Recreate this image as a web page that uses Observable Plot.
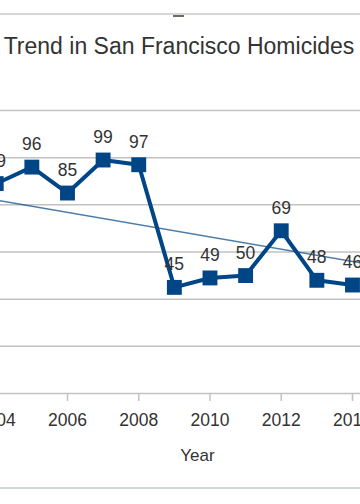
<!DOCTYPE html>
<html>
<head>
<meta charset="utf-8">
<script src="https://cdn.jsdelivr.net/npm/d3@7"></script>
<script src="https://cdn.jsdelivr.net/npm/@observablehq/plot@0.6"></script>
<style>
  html, body { margin: 0; padding: 0; background: #fff; }
  #wrap { position: relative; width: 360px; height: 504px; overflow: hidden; font-family: "Liberation Sans", Arial, sans-serif; }
  #topline { position: absolute; left: 0; top: 13px; width: 360px; height: 2px; background: #d6d6d6; }
  #topmark { position: absolute; left: 173px; top: 15px; width: 11px; height: 2px; background: #6b6b5e; }
  #botline { position: absolute; left: 0; top: 487px; width: 360px; height: 2px; background: #d2d8d8; }
  #title { position: absolute; left: 0; top: 30px; width: 358px; text-align: center; font-size: 23px; color: #333; line-height: 32px; white-space: nowrap; }
  #chart { position: absolute; left: 0; top: 0; }
  #chart svg { overflow: hidden; }
</style>
</head>
<body>
<div id="wrap">
  <div id="chart"></div>
  <div id="topline"></div>
  <div id="topmark"></div>
  <div id="botline"></div>
  <div id="title">Trend in San Francisco Homicides</div>
</div>
<script>
const years = [2004, 2005, 2006, 2007, 2008, 2009, 2010, 2011, 2012, 2013, 2014];
const homicides = [89, 96, 85, 99, 97, 45, 49, 50, 69, 48, 46];
const trendYears = [2004, 2014.5];
const trendValues = [82, 54.7];
const gridValues = [0, 20, 40, 60, 80, 100, 120];
const tickYears = [2004, 2006, 2008, 2010, 2012, 2014];
const xLabel = "Year";

const data = years.map((y, i) => ({year: y, value: homicides[i]}));
const trend = trendYears.map((y, i) => ({year: y, value: trendValues[i]}));

const blue = "#004586";
const grid = "#c2c2c2";

const chart = Plot.plot({
  width: 360,
  height: 504,
  marginTop: 110,
  marginBottom: 111,
  marginLeft: 0,
  marginRight: 0,
  style: {fontFamily: "Liberation Sans, Arial, sans-serif", background: "transparent"},
  x: {domain: [2004.12, 2014.225], axis: null},
  y: {domain: [0, 120], axis: null},
  marks: [
    Plot.ruleY(gridValues, {stroke: grid, strokeWidth: 1.5}),
    Plot.axisX(tickYears, {
      tickSize: 8, tickPadding: 12, stroke: grid, strokeWidth: 1.5,
      fill: "#333", fontSize: 17.5, tickFormat: d => String(d), label: null
    }),
    Plot.line(trend, {x: "year", y: "value", stroke: blue, strokeWidth: 1.3, strokeOpacity: 0.7}),
    Plot.line(data, {x: "year", y: "value", stroke: blue, strokeWidth: 4, strokeLinejoin: "miter"}),
    Plot.dot(data, {x: "year", y: "value", symbol: "square", r: 8.4, fill: blue, stroke: "none"}),
    Plot.text(data, {x: "year", y: "value", text: d => String(d.value), lineAnchor: "bottom", dy: -17, fontSize: 17.5, fill: "#333"}),
    Plot.text([xLabel], {frameAnchor: "bottom", lineAnchor: "bottom", dx: 17, dy: 67, fontSize: 17, fill: "#333"})
  ]
});
document.getElementById("chart").appendChild(chart);
</script>
</body>
</html>
